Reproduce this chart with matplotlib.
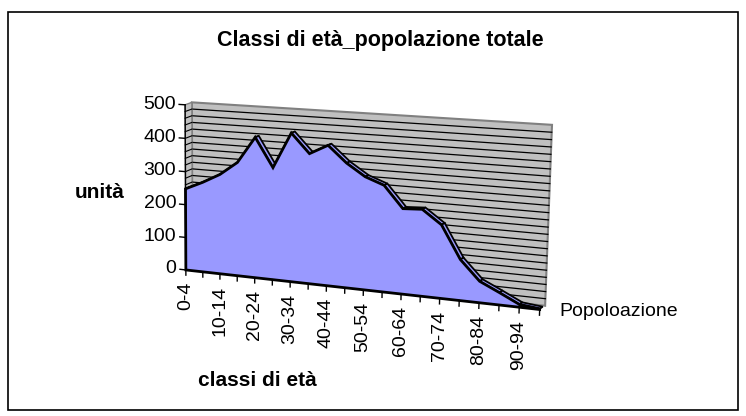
import numpy as np
import matplotlib
matplotlib.use('Agg')
import matplotlib.pyplot as plt
from matplotlib.transforms import Transform
from matplotlib.patches import Rectangle

# data
classi = ['0-4', '5-9', '10-14', '15-19', '20-24', '25-29', '30-34', '35-39',
          '40-44', '45-49', '50-54', '55-59', '60-64', '65-69', '70-74',
          '75-79', '80-84', '85-89', '90-94', '95-99']
popolazione = [248, 272, 300, 340, 418, 333, 438, 382, 410, 363,
               328, 308, 246, 249, 210, 117, 61, 35, 8, 2]
y_ticks = [0, 100, 200, 300, 400, 500]
serie = 'Popoloazione'

plt.rcParams['font.family'] = ['Liberation Sans', 'DejaVu Sans']

# 3D box (category, value, depth) -> image pixels, fitted on the box corners
box_3d = [(0, 0, 0), (19, 0, 0), (0, 500, 0), (10, 0, 0),
          (0, 500, 1), (19, 500, 1), (19, 0, 1)]
box_px = [(186, 270), (540, 309), (185, 105), (363, 290),
          (192, 102), (552, 125), (545, 306)]
A, b = [], []
for (i, v, d), (u, w) in zip(box_3d, box_px):
    v = v / 100
    A.append([i, v, d, 1, 0, 0, 0, 0, -u * i, -u * v, -u * d]); b.append(u)
    A.append([0, 0, 0, 0, i, v, d, 1, -w * i, -w * v, -w * d]); b.append(w)
p = np.linalg.lstsq(np.array(A, float), np.array(b, float), rcond=None)[0]
P = np.append(p, 1).reshape(3, 4)


def project(i, v, d):
    h = P @ np.array([i, v / 100, d, 1.0])
    return h[0] / h[2], h[1] / h[2]


class Proj(Transform):
    """(category, value) on the plane at a given depth -> image pixels."""
    input_dims = 2
    output_dims = 2

    def __init__(self, dz):
        super().__init__()
        self.dz = dz

    def transform_non_affine(self, values):
        values = np.asarray(values, float).reshape(-1, 2)
        m = len(values)
        pts = np.column_stack([values[:, 0], values[:, 1] / 100,
                               np.full(m, self.dz), np.ones(m)])
        h = pts @ P.T
        return h[:, :2] / h[:, 2:3]


fig = plt.figure(figsize=(7.46, 4.16), dpi=100)
ax = fig.add_axes([0, 0, 1, 1])
ax.set_xlim(0, 746)
ax.set_ylim(416, 0)
ax.set_autoscale_on(False)
ax.axis('off')

front = Proj(0) + ax.transData
back = Proj(1) + ax.transData
n = len(popolazione)
last = n - 1
gray = '#c0c0c0'

# back wall with gridlines
ax.fill([0, last, last, 0], [0, 0, 500, 500], transform=back,
        facecolor=gray, edgecolor='#808080', lw=1.5, zorder=1)
for v in range(20, 500, 20):
    ax.plot([0, last], [v, v], transform=back, color='black', lw=0.9, zorder=2)

# left side wall
side = [project(0, 0, 0), project(0, 0, 1), project(0, 500, 1), project(0, 500, 0)]
ax.fill([s[0] for s in side], [s[1] for s in side], facecolor=gray,
        edgecolor='#808080', lw=1, zorder=2)
for v in range(20, 500, 20):
    a, c = project(0, v, 0), project(0, v, 1)
    ax.plot([a[0], c[0]], [a[1], c[1]], color='black', lw=0.8, zorder=2)

# area: top strip then front face
d0, d1 = 0.0, 0.55
for i in range(last):
    q = [project(i, popolazione[i], d0), project(i + 1, popolazione[i + 1], d0),
         project(i + 1, popolazione[i + 1], d1), project(i, popolazione[i], d1)]
    ax.fill([s[0] for s in q], [s[1] for s in q], facecolor='#9999ff',
            edgecolor='black', lw=1.3, zorder=3)

xs = list(range(n)) + [last, 0]
ys = popolazione + [0, 0]
ax.fill(xs, ys, transform=Proj(d0) + ax.transData, facecolor='#9999ff',
        edgecolor='black', lw=2, joinstyle='miter', zorder=4)

# value axis
ax.plot([0, 0], [0, 500], transform=front, color='black', lw=1, zorder=5)
for v in y_ticks:
    ax.plot([-0.35, 0], [v, v], transform=front, color='black', lw=1, zorder=5)
    ax.text(-0.55, v, str(v), transform=front, ha='right', va='center',
            fontsize=14, zorder=6)

# category axis
for i in range(n):
    ax.plot([i, i], [0, -16], transform=front, color='black', lw=1, zorder=5)
for i in range(0, n, 2):
    ax.text(i, -36, classi[i], transform=front, rotation=90, ha='center',
            va='top', fontsize=14, zorder=6)

ax.text(559, 311, serie, ha='left', va='center', fontsize=14)
ax.text(100, 192, 'unità', ha='center', va='center', fontsize=15, fontweight='bold')
ax.text(257, 380, 'classi di età', ha='center', va='center', fontsize=15,
        fontweight='bold')
ax.text(380, 46, 'Classi di età_popolazione totale', ha='center', va='baseline',
        fontsize=15.5, fontweight='bold')

ax.add_patch(Rectangle((8, 12), 730, 398, fill=False, edgecolor='black', lw=1.2))

fig.savefig('out.png', dpi=100)
